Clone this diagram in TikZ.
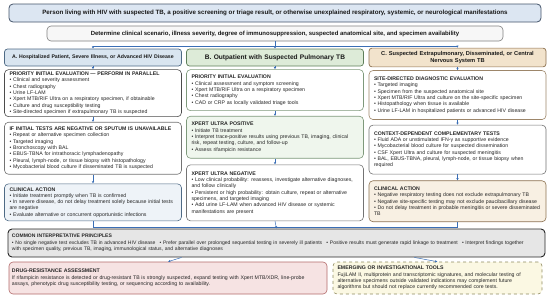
\documentclass[tikz,border=0pt]{standalone}
\usepackage{fontspec}
\setmainfont{Liberation Sans}
\usetikzlibrary{
    arrows.meta,
    positioning
}

\definecolor{linkblue}{HTML}{3A6EB5}
\definecolor{bannerfill}{HTML}{DCE6F2}
\definecolor{bannerdraw}{HTML}{44546A}
\definecolor{scenfill}{HTML}{F7F7F7}
\definecolor{scendraw}{HTML}{808080}
\definecolor{hospfill}{HTML}{D9E5F0}
\definecolor{hospdraw}{HTML}{4E6A85}
\definecolor{hosptint}{HTML}{EEF3F8}
\definecolor{outfill}{HTML}{DDEBD8}
\definecolor{outdraw}{HTML}{5E7F5A}
\definecolor{outtint}{HTML}{EFF6ED}
\definecolor{extrafill}{HTML}{F2E3CC}
\definecolor{extradraw}{HTML}{8C7150}
\definecolor{extratint}{HTML}{F8F0E3}
\definecolor{commonfill}{HTML}{E6E6E6}
\definecolor{resistfill}{HTML}{F6E3E3}
\definecolor{resistdraw}{HTML}{B36B6B}
\definecolor{emergfill}{HTML}{FBF8E3}
\definecolor{emergdraw}{HTML}{8F8A60}

\begin{document}
\begin{tikzpicture}[
    x=1pt, y=1pt,
    node distance=5pt,
    panel/.style={
        draw,
        rounded corners=4pt,
        align=left,
        text width=167pt,
        inner xsep=5pt,
        inner ysep=1.5pt,
        line width=0.6pt,
        fill=white,
        text=black!85,
        font=\fontsize{5.2}{6.3}\selectfont
    },
    colhead/.style={
        draw,
        rounded corners=3pt,
        align=center,
        text width=167pt,
        inner xsep=5pt,
        minimum height=17pt,
        line width=0.7pt,
        text=black!90,
        font=\bfseries\fontsize{5.7}{6.8}\selectfont
    },
    banner/.style={
        draw,
        rounded corners=4pt,
        align=center,
        line width=0.8pt,
        text=black!90,
        font=\bfseries\fontsize{6.2}{7}\selectfont
    },
    flow/.style={
        -{Latex[length=2.2pt,width=2.4pt]},
        linkblue,
        line width=0.5pt
    },
    link/.style={
        linkblue,
        line width=0.5pt
    }
]

\useasboundingbox (0,0) rectangle (550,-300);

% entry and triage
\node[banner, fill=bannerfill, draw=bannerdraw,
    minimum width=532pt, minimum height=18pt] (person) at (275,-13)
    {Person living with HIV with suspected TB, a positive screening or triage result, or otherwise unexplained respiratory, systemic, or neurological manifestations};

\node[banner, fill=scenfill, draw=scendraw, line width=0.6pt,
    minimum width=456pt, minimum height=15pt,
    font=\bfseries\fontsize{6}{7}\selectfont] (scenario) at (275,-33.5)
    {Determine clinical scenario, illness severity, degree of immunosuppression, suspected anatomical site, and specimen availability};

% column headers
\node[colhead, fill=hospfill, draw=hospdraw,
    font=\bfseries\fontsize{5.2}{6.3}\selectfont] (hosp) at (93,-57.5)
    {A. Hospitalized Patient, Severe Illness, or Advanced HIV Disease};
\node[colhead, fill=outfill, draw=outdraw,
    font=\bfseries\fontsize{6.6}{7.5}\selectfont] (outpt) at (275,-57.5)
    {B. Outpatient with Suspected Pulmonary TB};
\node[colhead, fill=extrafill, draw=extradraw] (extra) at (457.5,-57.5)
    {C. Suspected Extrapulmonary, Disseminated, or Central\\Nervous System TB};

% column A
\node[panel, draw=black!70, below=3pt of hosp, minimum height=47pt] (hospeval)
    {\textbf{PRIORITY INITIAL EVALUATION — PERFORM IN PARALLEL}\\
    • Clinical and severity assessment\\
    • Chest radiography\\
    • Urine LF-LAM\\
    • Xpert MTB/RIF Ultra on a respiratory specimen, if obtainable\\
    • Culture and drug susceptibility testing\\
    • Site-directed specimen if extrapulmonary TB is suspected};

\node[panel, draw=black!55, below=5pt of hospeval, minimum height=52pt] (hospneg)
    {\textbf{IF INITIAL TESTS ARE NEGATIVE OR SPUTUM IS UNAVAILABLE}\\
    • Repeat or alternative specimen collection\\
    • Targeted imaging\\
    • Bronchoscopy with BAL\\
    • EBUS-TBNA for intrathoracic lymphadenopathy\\
    • Pleural, lymph-node, or tissue biopsy with histopathology\\
    • Mycobacterial blood culture if disseminated TB is suspected};

\node[panel, fill=hosptint, draw=hospdraw, below=9pt of hospneg, minimum height=37pt] (hospact)
    {\textbf{CLINICAL ACTION}\\
    • Initiate treatment promptly when TB is confirmed\\
    • In severe disease, do not delay treatment solely because initial tests\\
    are negative\\
    • Evaluate alternative or concurrent opportunistic infections};

% column B
\node[panel, draw=outdraw!80, below=3pt of outpt, minimum height=41pt] (outeval)
    {\textbf{PRIORITY INITIAL EVALUATION}\\
    • Clinical assessment and symptom screening\\
    • Xpert MTB/RIF Ultra on a respiratory specimen\\
    • Chest radiography\\
    • CAD or CRP as locally validated triage tools};

\node[panel, fill=outtint, draw=outdraw!80, below=5pt of outeval, minimum height=42pt] (outpos)
    {\textbf{XPERT ULTRA POSITIVE}\\
    • Initiate TB treatment\\
    • Interpret trace-positive results using previous TB, imaging, clinical\\
    risk, repeat testing, culture, and follow-up\\
    • Assess rifampicin resistance};

\node[panel, draw=black!55, below=6pt of outpos, minimum height=56pt] (outneg)
    {\textbf{XPERT ULTRA NEGATIVE}\\
    • Low clinical probability: reassess, investigate alternative diagnoses,\\
    and follow clinically\\
    • Persistent or high probability: obtain culture, repeat or alternative\\
    specimens, and targeted imaging\\
    • Add urine LF-LAM when advanced HIV disease or systemic\\
    manifestations are present};

% column C
\node[panel, draw=extradraw!85, below=3pt of extra, minimum height=49pt] (extraeval)
    {\textbf{SITE-DIRECTED DIAGNOSTIC EVALUATION}\\
    • Targeted imaging\\
    • Specimen from the suspected anatomical site\\
    • Xpert MTB/RIF Ultra and culture on the site-specific specimen\\
    • Histopathology when tissue is available\\
    • Urine LF-LAM in hospitalized patients or advanced HIV disease};

\node[panel, draw=black!55, below=5pt of extraeval, minimum height=49pt] (extratests)
    {\textbf{CONTEXT-DEPENDENT COMPLEMENTARY TESTS}\\
    • Fluid ADA or unstimulated IFN-γ as supportive evidence\\
    • Mycobacterial blood culture for suspected dissemination\\
    • CSF Xpert Ultra and culture for suspected meningitis\\
    • BAL, EBUS-TBNA, pleural, lymph-node, or tissue biopsy when\\
    required};

\node[panel, fill=extratint, draw=extradraw, below=6pt of extratests, minimum height=41pt] (extraact)
    {\textbf{CLINICAL ACTION}\\
    • Negative respiratory testing does not exclude extrapulmonary TB\\
    • Negative site-specific testing may not exclude paucibacillary disease\\
    • Do not delay treatment in probable meningitis or severe disseminated\\
    TB};

% shared principles and add-ons
\node[panel, fill=commonfill, draw=black!85, line width=0.9pt, inner xsep=4pt,
    text width=529pt, minimum height=28pt,
    font=\fontsize{5.05}{6.3}\selectfont] (common) at (276.5,-243)
    {\textbf{COMMON INTERPRETATIVE PRINCIPLES}\\
    • No single negative test excludes TB in advanced HIV disease\hspace{2.5pt}
    • Prefer parallel over prolonged sequential testing in severely ill patients\hspace{2.5pt}
    • Positive results must generate rapid linkage to treatment\hspace{2.5pt}
    • Interpret findings together\\
    with specimen quality, previous TB, imaging, immunological status, and alternative diagnoses};

\node[panel, fill=resistfill, draw=resistdraw, inner xsep=3pt,
    text width=312pt, minimum height=32pt] (resist) at (168,-278)
    {\textbf{DRUG-RESISTANCE ASSESSMENT}\\
    If rifampicin resistance is detected or drug-resistant TB is strongly suspected, expand testing with Xpert MTB/XDR, line-probe\\
    assays, phenotypic drug susceptibility testing, or sequencing according to availability.};

\node[panel, fill=emergfill, draw=emergdraw, dashed, inner xsep=4.5pt,
    text width=200pt, minimum height=32pt] (emerging) at (437.5,-278)
    {\textbf{EMERGING OR INVESTIGATIONAL TOOLS}\\
    FujiLAM II, multiprotein and transcriptomic signatures, and molecular testing of\\
    alternative specimens outside validated indications may complement future\\
    algorithms but should not replace currently recommended core tests.};

% connectors
\coordinate[below=5pt of scenario.south] (split);
\draw[link] (scenario.south) -- (split);
\draw[flow] (split) -| (hosp.north);
\draw[flow] (split) -| (extra.north);
\draw[flow] (split) -- (outpt.north);

\draw[flow] (hosp) -- (hospeval);
\draw[flow] (hospeval) -- (hospneg);
\draw[flow] (hospneg) -- (hospact);

\draw[flow] (outpt) -- (outeval);
\draw[flow] (outeval) -- (outpos);
\draw[flow] (outpos) -- (outneg);

\draw[flow] (extra) -- (extraeval);
\draw[flow] (extraeval) -- (extratests);
\draw[flow] (extratests) -- (extraact);

\coordinate[below=6pt of outneg.south] (merge);
\draw[link] (hospact.south) |- (merge);
\draw[link] (extraact.south) |- (merge);
\draw[flow] (outneg.south) -- (common.north);

\draw[flow] ([xshift=-95pt]common.south) -- (resist.north);
\draw[flow] ([xshift=138pt]common.south) -- (emerging.north);

\end{tikzpicture}
\end{document}
